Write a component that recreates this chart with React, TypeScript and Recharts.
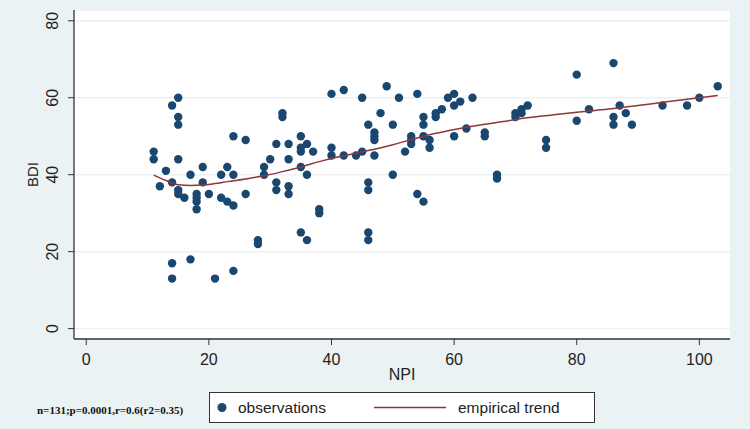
import { ScatterChart, Scatter, XAxis, YAxis, CartesianGrid } from 'recharts';

// observations (NPI on x, BDI on y)
const npi = [
  11, 11, 12, 13, 14, 14, 14, 14, 15, 15, 15, 15, 15, 15, 16, 17, 17, 18, 18, 18, 18,
  19, 19, 20, 21, 22, 22, 23, 23, 24, 24, 24, 24, 26, 26, 28, 28, 29, 29, 30, 31, 31, 31,
  32, 32, 33, 33, 33, 33, 35, 35, 35, 35, 35, 36, 36, 36, 37, 38, 38, 40, 40, 40, 42, 42,
  44, 45, 45, 46, 46, 46, 46, 46, 47, 47, 47, 47, 48, 49, 50, 50, 51, 52, 53, 53, 53, 54,
  54, 55, 55, 55, 55, 56, 56, 57, 57, 58, 59, 60, 60, 60, 61, 62, 63, 65, 65, 67, 67, 70,
  70, 71, 71, 72, 75, 75, 80, 80, 82, 86, 86, 86, 87, 88, 89, 94, 98, 100, 103,
];
const bdi = [
  46, 44, 37, 41, 58, 38, 17, 13, 60, 55, 53, 44, 36, 35, 34, 40, 18, 35, 34, 33, 31,
  42, 38, 35, 13, 40, 34, 42, 33, 50, 40, 32, 15, 49, 35, 23, 22, 42, 40, 44, 48, 38, 36,
  56, 55, 48, 44, 37, 35, 50, 47, 46, 42, 25, 48, 40, 23, 46, 31, 30, 61, 47, 45, 62, 45,
  45, 60, 46, 53, 38, 36, 25, 23, 51, 50, 49, 45, 56, 63, 53, 40, 60, 46, 50, 49, 48, 61,
  35, 55, 53, 50, 33, 49, 47, 56, 55, 57, 60, 61, 58, 50, 59, 52, 60, 51, 50, 40, 39, 56,
  55, 57, 56, 58, 49, 47, 66, 54, 57, 69, 55, 53, 58, 56, 53, 58, 58, 60, 63,
];

// empirical (lowess) trend
const trendNpi = [11, 13, 15, 17, 19, 21, 23, 26, 29, 32, 35, 38, 41, 44, 47, 50, 53, 56, 59, 62, 65, 68, 71, 74, 77, 80, 83, 86, 89, 92, 95, 98, 101, 103];
const trendBdi = [39.9, 38.5, 37.4, 37.2, 37.3, 37.7, 38.2, 38.9, 39.7, 40.8, 42.0, 43.4, 44.6, 45.6, 46.6, 47.8, 49.1, 50.4, 51.4, 52.3, 53.1, 53.8, 54.6, 55.2, 55.7, 56.2, 56.7, 57.2, 57.8, 58.4, 59.0, 59.6, 60.2, 60.6];

const xTicks = [0, 20, 40, 60, 80, 100];
const yTicks = [0, 20, 40, 60, 80];

const observations = npi.map((x, i) => ({ npi: x, bdi: bdi[i] }));
const trend = trendNpi.map((x, i) => ({ npi: x, bdi: trendBdi[i] }));

const NAVY = '#1a476f';
const MAROON = '#90353b';
const BG = '#eaf2f3';
const FONT = '"Liberation Sans", Arial, sans-serif';

const Dot = (props: any) => <circle cx={props.cx} cy={props.cy} r={4.2} fill={NAVY} />;
const NoDot = () => <g />;

const XTick = ({ x, payload }: any) => (
  <text x={x} y={365} textAnchor="middle" fontSize={16} fill="#222" fontFamily={FONT}>
    {payload.value}
  </text>
);

const YTick = ({ y, payload }: any) => (
  <text x={58} y={y} transform={`rotate(-90 58 ${y})`} textAnchor="middle" fontSize={16} fill="#222" fontFamily={FONT}>
    {payload.value}
  </text>
);

export default function App() {
  return (
    <div style={{ position: 'absolute', left: 0, top: 0, width: 750, height: 429, background: BG, fontFamily: FONT }}>
      <ScatterChart width={750} height={429} margin={{ top: 10, right: 20, bottom: 60, left: 0 }}>
        <CartesianGrid vertical={false} fill="#fff" stroke={BG} strokeWidth={1.5} />
        <XAxis
          type="number"
          dataKey="npi"
          domain={[-2, 105]}
          ticks={xTicks}
          height={30}
          tickSize={6}
          tick={<XTick />}
          axisLine={{ stroke: '#333', strokeWidth: 1.3 }}
          tickLine={{ stroke: '#333' }}
          label={() => (
            <text x={402} y={380} textAnchor="middle" fontSize={16} fill="#222" fontFamily={FONT}>NPI</text>
          )}
        />
        <YAxis
          type="number"
          dataKey="bdi"
          domain={[-2.7, 82.8]}
          ticks={yTicks}
          width={74}
          tickSize={6}
          tick={<YTick />}
          axisLine={{ stroke: '#333', strokeWidth: 1.3 }}
          tickLine={{ stroke: '#333' }}
          label={() => (
            <text x={38} y={174.5} transform="rotate(-90 38 174.5)" textAnchor="middle" fontSize={15} fill="#222" fontFamily={FONT}>BDI</text>
          )}
        />
        <Scatter name="observations" data={observations} shape={Dot} isAnimationActive={false} />
        <Scatter
          name="empirical trend"
          data={trend}
          shape={NoDot}
          line={{ stroke: MAROON, strokeWidth: 1.5 }}
          lineJointType="monotoneX"
          isAnimationActive={false}
        />
      </ScatterChart>
      <svg width={750} height={429} style={{ position: 'absolute', left: 0, top: 0, pointerEvents: 'none' }}>
        <text x={37} y={414} fontSize={11} fontWeight="bold" fill="#111" fontFamily='"Liberation Serif", "Times New Roman", serif'>
          n=131;p=0.0001,r=0.6(r2=0.35)
        </text>
        <rect x={209.5} y={392.5} width={385} height={30} fill="#fff" stroke="#333" strokeWidth={1} />
        <circle cx={222} cy={407.5} r={4.5} fill={NAVY} />
        <text x={238} y={413} fontSize={15.5} fill="#222" fontFamily={FONT}>observations</text>
        <line x1={374} y1={407.5} x2={446} y2={407.5} stroke={MAROON} strokeWidth={1.5} />
        <text x={458} y={413} fontSize={15.5} fill="#222" fontFamily={FONT}>empirical trend</text>
      </svg>
    </div>
  );
}
